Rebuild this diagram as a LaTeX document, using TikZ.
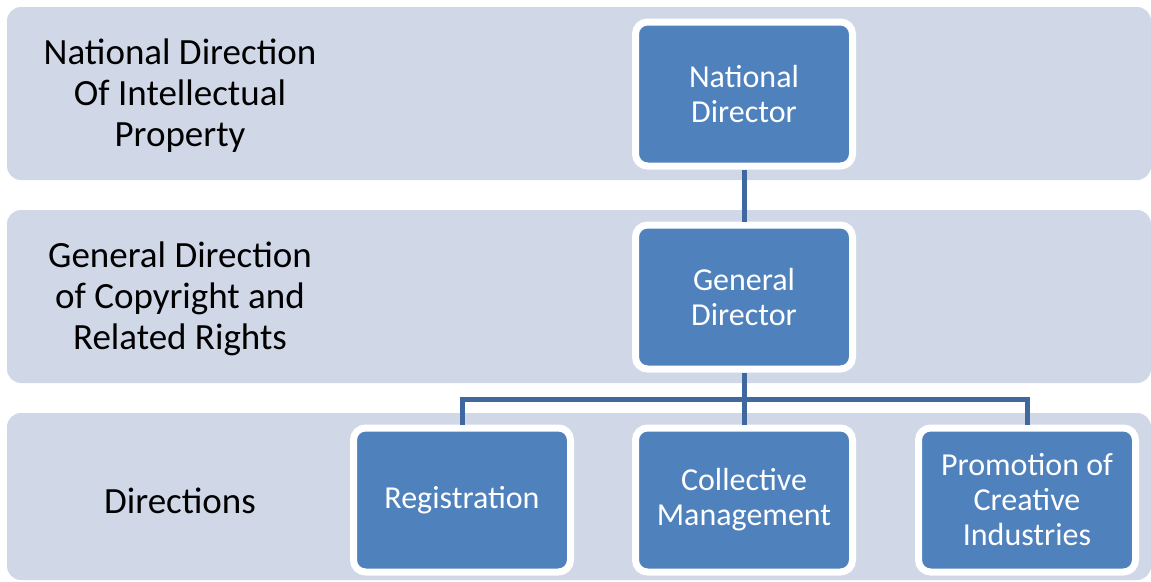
\documentclass[tikz,border=0pt]{standalone}
\usepackage{fontspec}
\setmainfont{Carlito}
\usetikzlibrary{shadows}

\definecolor{bandfill}{RGB}{208,216,232}
\definecolor{boxblue}{RGB}{79,129,189}
\definecolor{linkblue}{RGB}{63,104,158}

\tikzset{
  band/.style={fill=bandfill, rounded corners=14pt, minimum width=1144pt, inner sep=0pt},
  rowlabel/.style={align=center, font=\fontsize{37}{41}\selectfont},
  unitbox/.style={draw=white, line width=7pt, fill=boxblue, rounded corners=12pt,
    minimum width=217pt, minimum height=144pt, align=center, text=white,
    font=\fontsize{32}{35}\selectfont,
    drop shadow={shadow xshift=1pt, shadow yshift=-3pt, opacity=0.35, fill=black!60}},
  link/.style={draw=linkblue, line width=5pt}
}

\begin{document}
\begin{tikzpicture}[x=1pt, y=-1pt]
    \useasboundingbox (0, 0) rectangle (1151, 581);

    % rows
    \node[band, minimum height=173pt] (rowtop) at (579, 93.5) {};
    \node[band, minimum height=173pt] (rowmid) at (579, 296.5) {};
    \node[band, minimum height=167pt] (rowlow) at (579, 496.5) {};

    \node[rowlabel] (labtop) at (180, 96) {National Direction\\Of Intellectual\\Property};
    \node[rowlabel] (labmid) at (180, 299) {General Direction\\of Copyright and\\Related Rights};
    \node[rowlabel] (lablow) at (180, 501) {Directions};

    % boxes
    \node[unitbox] (natdir) at (744, 94) {National\\Director};
    \node[unitbox] (gendir) at (744, 297) {General\\Director};
    \node[unitbox] (reg) at (462, 500) {\raisebox{-2pt}{Registration}};
    \node[unitbox] (coll) at (744, 500) {Collective\\Management};
    \node[unitbox] (promo) at (1027, 500) {Promotion of\\Creative\\Industries};

    % links
    \coordinate (bus) at (744, 399);
    \draw[link] (natdir.south) -- (gendir.north);
    \draw[link] (gendir.south) -- (coll.north);
    \draw[link] (bus) -| (reg.north);
    \draw[link] (bus) -| (promo.north);
  \end{tikzpicture}
\end{document}
